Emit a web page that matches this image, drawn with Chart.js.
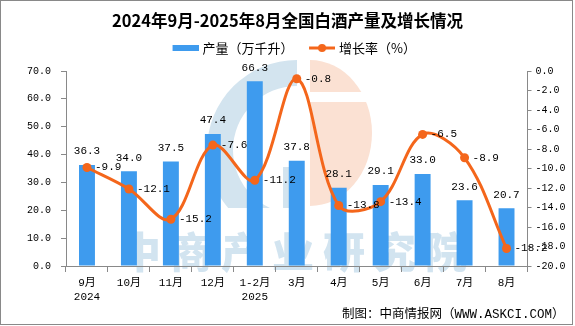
<!DOCTYPE html>
<html><head><meta charset="utf-8">
<script src="https://cdn.jsdelivr.net/npm/chart.js@4.4.1/dist/chart.umd.min.js"></script>
<style>html,body{margin:0;padding:0;background:#fff;}canvas{display:block;}</style>
</head><body>
<canvas id="c" width="575" height="326"></canvas>
<script>
// ---- data ----
const categories = [['9月','2024'],'10月','11月','12月',['1-2月','2025'],'3月','4月','5月','6月','7月','8月'];
const production = [36.3, 34.0, 37.5, 47.4, 66.3, 37.8, 28.1, 29.1, 33.0, 23.6, 20.7];
const growth = [-9.9, -12.1, -15.2, -7.6, -11.2, -0.8, -13.8, -13.4, -6.5, -8.9, -18.2];
const leftTicks = [0, 10, 20, 30, 40, 50, 60, 70];
const rightTicks = [-20, -18, -16, -14, -12, -10, -8, -6, -4, -2, 0];
const titleText = '2024年9月-2025年8月全国白酒产量及增长情况';
const seriesNames = ['产量（万千升）', '增长率（%）'];
const sourceText = '制图：中商情报网（WWW.ASKCI.COM）';
const watermarkText = '中商产业研究院';

// ---- styles ----
const BLUE = '#3E9BEE';
const ORANGE = '#F4661B';
const GRAY = '#898989';
const MONO = '"Liberation Mono","Noto Sans CJK SC",monospace';
const CJK = '"Noto Sans CJK SC",sans-serif';

function makeIcon(kind) {
  const c = document.createElement('canvas');
  c.width = 42; c.height = 12;
  const g = c.getContext('2d');
  if (kind === 'bar') {
    g.fillStyle = BLUE; g.fillRect(16, 3, 26, 6);
  } else {
    g.strokeStyle = ORANGE; g.lineWidth = 3;
    g.beginPath(); g.moveTo(16, 6); g.lineTo(42, 6); g.stroke();
    g.fillStyle = ORANGE; g.beginPath(); g.arc(29, 6, 4, 0, Math.PI * 2); g.fill();
  }
  return c;
}
const icons = [makeIcon('bar'), makeIcon('line')];

const backgroundPlugin = {
  id: 'bgwm',
  beforeDraw(chart) {
    const ctx = chart.ctx;
    ctx.save();
    ctx.fillStyle = '#fff';
    ctx.fillRect(0, 0, chart.width, chart.height);
    // watermark logo
    ctx.save();
    ctx.beginPath(); ctx.rect(0, 60, 575, 148); ctx.clip();
    ctx.fillStyle = '#D3E4EF';
    ctx.beginPath();
    ctx.arc(297, 150, 90, Math.PI / 2, Math.PI * 1.5, false);
    ctx.arc(297, 150, 64, Math.PI * 1.5, Math.PI / 2, true);
    ctx.closePath(); ctx.fill();
    ctx.fillRect(283, 167, 14, 41);
    ctx.fillStyle = '#FBE1D3';
    ctx.beginPath();
    ctx.ellipse(310, 133, 62, 73, 0, -Math.PI / 2, Math.PI / 2, false);
    ctx.closePath(); ctx.fill();
    ctx.fillStyle = '#fff';
    ctx.fillRect(310, 92, 70, 10);
    ctx.restore();
    // watermark text
    ctx.fillStyle = '#D2E4F0';
    ctx.font = '900 42px ' + CJK;
    ctx.textAlign = 'center';
    ctx.textBaseline = 'middle';
    const chars = Array.from(watermarkText);
    chars.forEach((ch, i) => ctx.fillText(ch, 140 + i * 51, 252));
    ctx.restore();
  },
  afterDraw(chart) {
    const ctx = chart.ctx;
    ctx.save();
    ctx.fillStyle = '#000';
    ctx.font = '12.5px ' + MONO;
    ctx.textAlign = 'left';
    ctx.textBaseline = 'middle';
    ctx.fillText(sourceText, 342, 315);
    ctx.strokeStyle = GRAY;
    ctx.lineWidth = 1;
    ctx.strokeRect(0.5, 0.5, 572, 324);
    ctx.restore();
  }
};

const labelPlugin = {
  id: 'vlabels',
  afterDatasetsDraw(chart) {
    const ctx = chart.ctx;
    ctx.save();
    ctx.fillStyle = '#000';
    ctx.font = '11px ' + MONO;
    ctx.textBaseline = 'middle';
    const barVals = chart.data.datasets[0].data;
    chart.getDatasetMeta(0).data.forEach((el, i) => {
      ctx.textAlign = 'center';
      ctx.fillText(barVals[i].toFixed(1), el.x, el.y - 13.5);
    });
    const lineVals = chart.data.datasets[1].data;
    chart.getDatasetMeta(1).data.forEach((el, i) => {
      ctx.textAlign = 'left';
      ctx.fillText(lineVals[i].toFixed(1), el.x + 8, el.y);
    });
    ctx.restore();
  }
};

new Chart(document.getElementById('c'), {
  data: {
    labels: categories,
    datasets: [
      {
        type: 'bar', label: seriesNames[0], data: production,
        backgroundColor: BLUE, yAxisID: 'y', order: 2,
        barPercentage: 0.38, categoryPercentage: 1.0
      },
      {
        type: 'line', label: seriesNames[1], data: growth,
        borderColor: ORANGE, backgroundColor: ORANGE, borderWidth: 3,
        pointRadius: 4.5, pointHoverRadius: 4.5, pointBackgroundColor: ORANGE,
        pointBorderColor: ORANGE, pointBorderWidth: 0,
        tension: 0.35, yAxisID: 'y1', order: 1
      }
    ]
  },
  options: {
    responsive: false,
    devicePixelRatio: 1,
    animation: false,
    layout: { padding: { left: 0, right: 0, top: 0, bottom: 0 } },
    plugins: {
      title: {
        display: true, text: titleText, color: '#000',
        font: { family: CJK, size: 16.5, weight: 'bold' },
        padding: { top: 10.4, bottom: 9.3 }
      },
      subtitle: {
        display: true, text: '', weight: 500,
        font: { size: 1 }, padding: { top: 0, bottom: 5.3 }
      },
      legend: {
        display: true, position: 'top',
        labels: {
          usePointStyle: true, pointStyleWidth: 37, padding: 2,
          color: '#000', font: { family: CJK, size: 13 },
          generateLabels: (chart) => chart.data.datasets.map((ds, i) => ({
            text: ds.label, pointStyle: icons[i], fillStyle: i === 0 ? BLUE : ORANGE,
            strokeStyle: i === 0 ? BLUE : ORANGE, lineWidth: 0, hidden: false,
            datasetIndex: i, fontColor: '#000'
          }))
        }
      },
      tooltip: { enabled: false }
    },
    scales: {
      x: {
        grid: { display: true, drawOnChartArea: false, drawTicks: true, tickLength: 6, offset: true, color: GRAY },
        border: { display: true, color: GRAY, width: 1 },
        ticks: { color: '#000', font: { family: MONO, size: 11, lineHeight: 1.3 }, padding: 4, maxRotation: 0, autoSkip: false },
        afterFit: (s) => { s.height = 60; }
      },
      y: {
        position: 'left', min: 0, max: 70,
        afterBuildTicks: (s) => { s.ticks = leftTicks.map(v => ({ value: v })); },
        grid: { drawOnChartArea: false, drawTicks: true, tickLength: 5, color: GRAY },
        border: { display: true, color: GRAY },
        ticks: { color: '#000', padding: 10, font: { family: MONO, size: 10 }, callback: (v) => Number(v).toFixed(1) },
        afterFit: (s) => { s.width = 66; }
      },
      y1: {
        position: 'right', min: -20, max: 0,
        afterBuildTicks: (s) => { s.ticks = rightTicks.map(v => ({ value: v })); },
        grid: { drawOnChartArea: false, drawTicks: true, tickLength: 4, color: GRAY },
        border: { display: true, color: GRAY },
        ticks: { color: '#000', padding: 4, font: { family: MONO, size: 10 }, callback: (v) => Number(v).toFixed(1) },
        afterFit: (s) => { s.width = 47.5; }
      }
    }
  },
  plugins: [backgroundPlugin, labelPlugin]
});
</script>
</body></html>
